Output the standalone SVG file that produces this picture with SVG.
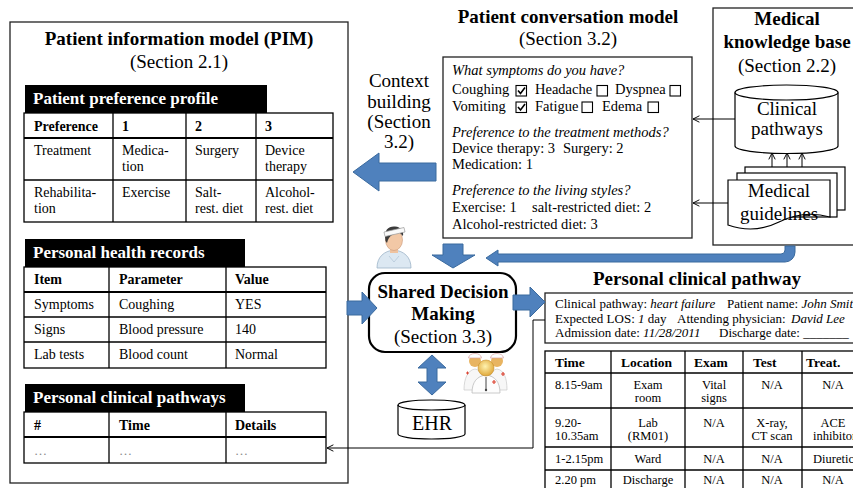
<svg xmlns="http://www.w3.org/2000/svg" width="853" height="488" viewBox="0 0 853 488">
  <style>
    text { font-family: "Liberation Serif", "Times New Roman", serif; fill: #000; }
    .title { font-size: 19px; font-weight: bold; text-anchor: middle; }
    .sec { font-size: 19px; text-anchor: middle; }
    .cell { font-size: 14px; }
    .cellb { font-size: 14px; font-weight: bold; }
    .bartext { font-size: 17px; font-weight: bold; fill: #fff; }
    .q { font-size: 14.5px; }
    .qi { font-size: 14.5px; font-style: italic; }
    .info { font-size: 13px; }
    .th { font-size: 13.5px; font-weight: bold; }
    .td { font-size: 12.5px; }
    .tdc { font-size: 12.5px; text-anchor: middle; }
    .dots { font-size: 13px; fill: #888; }
    .frame { fill: #fff; stroke: #222; stroke-width: 1.3; }
    .grid { fill: none; stroke: #000; stroke-width: 1.3; }
    .thick { stroke: #000; stroke-width: 2.2; }
    .bar { fill: #000; }
    .blue { fill: #4F81BD; stroke: #3A6A9E; stroke-width: 1; }
    .conn { fill: none; stroke: #000; stroke-width: 1; marker-end: url(#open); }
    .chk { fill: #fff; stroke: #000; stroke-width: 1.1; }
  </style>
  <defs>
    <marker id="open" viewBox="0 0 10 10" refX="9" refY="5" markerWidth="8" markerHeight="8" orient="auto" markerUnits="userSpaceOnUse">
      <path d="M1,1 L9,5 L1,9" fill="none" stroke="#000" stroke-width="1.2"/>
    </marker>
    <radialGradient id="gold" cx="0.45" cy="0.4" r="0.6">
      <stop offset="0" stop-color="#fff3b0"/>
      <stop offset="1" stop-color="#e0a83a"/>
    </radialGradient>
  </defs>

  <rect width="853" height="488" fill="#fff"/>

  <!-- Patient information model -->
  <g id="pim">
    <rect class="frame" x="10" y="22" width="338" height="461"/>
    <text class="title" x="179" y="45">Patient information model (PIM)</text>
    <text class="sec" x="179" y="68">(Section 2.1)</text>

    <!-- preference profile -->
    <rect class="bar" x="25" y="85" width="242" height="28"/>
    <text class="bartext" x="33" y="104">Patient preference profile</text>
    <rect class="grid" x="24" y="113" width="309" height="109"/>
    <line class="thick" x1="24" y1="138" x2="333" y2="138"/>
    <line class="grid" x1="24" y1="180" x2="333" y2="180"/>
    <line class="grid" x1="113" y1="113" x2="113" y2="222"/>
    <line class="grid" x1="186" y1="113" x2="186" y2="222"/>
    <line class="grid" x1="256" y1="113" x2="256" y2="222"/>
    <text class="cellb" x="34" y="131">Preference</text>
    <text class="cellb" x="122" y="131">1</text>
    <text class="cellb" x="195" y="131">2</text>
    <text class="cellb" x="265" y="131">3</text>
    <text class="cell" x="34" y="155">Treatment</text>
    <text class="cell" x="122" y="155">Medica-</text>
    <text class="cell" x="122" y="171">tion</text>
    <text class="cell" x="195" y="155">Surgery</text>
    <text class="cell" x="265" y="155">Device</text>
    <text class="cell" x="265" y="171">therapy</text>
    <text class="cell" x="34" y="197">Rehabilita-</text>
    <text class="cell" x="34" y="213">tion</text>
    <text class="cell" x="122" y="197">Exercise</text>
    <text class="cell" x="195" y="197">Salt-</text>
    <text class="cell" x="195" y="213">rest. diet</text>
    <text class="cell" x="265" y="197">Alcohol-</text>
    <text class="cell" x="265" y="213">rest. diet</text>

    <!-- health records -->
    <rect class="bar" x="25" y="239" width="220" height="28"/>
    <text class="bartext" x="33" y="258">Personal health records</text>
    <rect class="grid" x="24" y="267" width="302" height="101"/>
    <line class="thick" x1="24" y1="292" x2="326" y2="292"/>
    <line class="grid" x1="24" y1="317" x2="326" y2="317"/>
    <line class="grid" x1="24" y1="342" x2="326" y2="342"/>
    <line class="grid" x1="109" y1="267" x2="109" y2="368"/>
    <line class="grid" x1="226" y1="267" x2="226" y2="368"/>
    <text class="cellb" x="34" y="284">Item</text>
    <text class="cellb" x="119" y="284">Parameter</text>
    <text class="cellb" x="235" y="284">Value</text>
    <text class="cell" x="34" y="309">Symptoms</text>
    <text class="cell" x="119" y="309">Coughing</text>
    <text class="cell" x="235" y="309">YES</text>
    <text class="cell" x="34" y="334">Signs</text>
    <text class="cell" x="119" y="334">Blood pressure</text>
    <text class="cell" x="235" y="334">140</text>
    <text class="cell" x="34" y="359">Lab tests</text>
    <text class="cell" x="119" y="359">Blood count</text>
    <text class="cell" x="235" y="359">Normal</text>

    <!-- clinical pathways list -->
    <rect class="bar" x="25" y="384" width="220" height="28"/>
    <text class="bartext" x="33" y="403">Personal clinical pathways</text>
    <rect class="grid" x="24" y="412" width="302" height="51"/>
    <line class="thick" x1="24" y1="437" x2="326" y2="437"/>
    <line class="grid" x1="109" y1="412" x2="109" y2="463"/>
    <line class="grid" x1="226" y1="412" x2="226" y2="463"/>
    <text class="cellb" x="34" y="430">#</text>
    <text class="cellb" x="119" y="430">Time</text>
    <text class="cellb" x="235" y="430">Details</text>
    <text class="dots" x="34" y="455">…</text>
    <text class="dots" x="119" y="455">…</text>
    <text class="dots" x="235" y="455">…</text>
  </g>

  <!-- Context building label -->
  <g id="context-building">
    <text class="sec" x="399" y="87">Context</text>
    <text class="sec" x="399" y="108">building</text>
    <text class="sec" x="399" y="128">(Section</text>
    <text class="sec" x="399" y="148">3.2)</text>
  </g>

  <!-- Patient conversation model -->
  <g id="conversation">
    <text class="title" x="568" y="23">Patient conversation model</text>
    <text class="sec" x="568" y="45">(Section 3.2)</text>
    <rect class="frame" x="443" y="57" width="249" height="181"/>
    <text class="qi" x="452" y="75">What symptoms do you have?</text>
    <text class="q" x="452" y="94">Coughing</text>
    <text class="q" x="535" y="94">Headache</text>
    <text class="q" x="615" y="94">Dyspnea</text>
    <text class="q" x="452" y="111">Vomiting</text>
    <text class="q" x="535" y="111">Fatigue</text>
    <text class="q" x="602" y="111">Edema</text>
    <rect class="chk" x="516" y="85.5" width="10.5" height="10.5"/>
    <path d="M518,90.5 L520.5,93.5 L525,87.5" fill="none" stroke="#000" stroke-width="1.6"/>
    <rect class="chk" x="597" y="85.5" width="10.5" height="10.5"/>
    <rect class="chk" x="670" y="85.5" width="10.5" height="10.5"/>
    <rect class="chk" x="516" y="102" width="10.5" height="10.5"/>
    <path d="M518,107 L520.5,110 L525,104" fill="none" stroke="#000" stroke-width="1.6"/>
    <rect class="chk" x="582" y="102" width="10.5" height="10.5"/>
    <rect class="chk" x="648" y="102" width="10.5" height="10.5"/>
    <text class="qi" x="452" y="137">Preference to the treatment methods?</text>
    <text class="q" x="452" y="153">Device therapy: 3</text>
    <text class="q" x="563" y="153">Surgery: 2</text>
    <text class="q" x="452" y="169">Medication: 1</text>
    <text class="qi" x="452" y="195">Preference to the living styles?</text>
    <text class="q" x="452" y="212">Exercise: 1</text>
    <text class="q" x="532" y="212">salt-restricted diet: 2</text>
    <text class="q" x="452" y="229">Alcohol-restricted diet: 3</text>
  </g>

  <!-- Medical knowledge base -->
  <g id="knowledge-base">
    <rect class="frame" x="713" y="8" width="160" height="237"/>
    <text class="title" x="787" y="25">Medical</text>
    <text class="title" x="787" y="48">knowledge base</text>
    <text class="sec" x="787" y="72">(Section 2.2)</text>
  </g>
  <g id="clinical-pathways-db">
    <path d="M735,92.5 A51.5,7.5 0 0 1 838,92.5 V146 A51.5,7.5 0 0 1 735,146 Z" fill="#fff" stroke="#000" stroke-width="1.2"/>
    <path d="M735,92.5 A51.5,7.5 0 0 0 838,92.5" fill="none" stroke="#000" stroke-width="1.2"/>
    <text class="sec" x="787" y="115">Clinical</text>
    <text class="sec" x="787" y="135">pathways</text>
  </g>
  <g id="medical-guidelines">
    <rect x="745" y="167" width="100" height="43" fill="#fff" stroke="#000" stroke-width="1.2"/>
    <rect x="737" y="173" width="100" height="44" fill="#fff" stroke="#000" stroke-width="1.2"/>
    <path d="M728,180 H830 V217 C812,212 795,214 779,222 C763,230 745,231 728,225 Z" fill="#fff" stroke="#000" stroke-width="1.2"/>
    <text class="sec" x="779" y="197">Medical</text>
    <text class="sec" x="779" y="220">guidelines</text>
  </g>

  <!-- Shared decision making -->
  <g id="sdm">
    <rect x="369" y="273" width="147" height="79" rx="16" fill="#fff" stroke="#000" stroke-width="2.2"/>
    <text class="title" x="443" y="298">Shared Decision</text>
    <text class="title" x="443" y="320">Making</text>
    <text class="sec" x="443" y="343">(Section 3.3)</text>
  </g>

  <!-- EHR store -->
  <g id="ehr">
    <path d="M398,405 A33.5,5 0 0 1 465,405 V434 A33.5,5 0 0 1 398,434 Z" fill="#fff" stroke="#000" stroke-width="1.2"/>
    <path d="M398,405 A33.5,5 0 0 0 465,405" fill="none" stroke="#000" stroke-width="1.2"/>
    <text x="432" y="430" font-size="20" text-anchor="middle">EHR</text>
  </g>

  <!-- Personal clinical pathway -->
  <g id="clinical-pathway">
    <text class="title" x="697" y="285">Personal clinical  pathway</text>
    <rect class="frame" x="545" y="293" width="330" height="50"/>
    <text class="info" x="555" y="308">Clinical pathway: <tspan font-style="italic">heart failure</tspan></text>
    <text class="info" x="727" y="308">Patient name: <tspan font-style="italic">John Smith</tspan></text>
    <text class="info" x="555" y="323">Expected LOS: <tspan font-style="italic">1</tspan> day</text>
    <text class="info" x="677" y="323">Attending physician:</text>
    <text class="info" x="791" y="323" font-style="italic">David  Lee</text>
    <text class="info" x="555" y="337">Admission date: <tspan font-style="italic">11/28/2011</tspan></text>
    <text class="info" x="719" y="337">Discharge date: _______</text>

    <rect class="grid" x="545" y="351" width="330" height="150"/>
    <line class="grid" x1="545" y1="373" x2="875" y2="373"/>
    <line class="grid" x1="545" y1="408" x2="875" y2="408"/>
    <line class="grid" x1="545" y1="447" x2="875" y2="447"/>
    <line class="grid" x1="545" y1="470" x2="875" y2="470"/>
    <line class="grid" x1="611" y1="351" x2="611" y2="500"/>
    <line class="grid" x1="685" y1="351" x2="685" y2="500"/>
    <line class="grid" x1="743" y1="351" x2="743" y2="500"/>
    <line class="grid" x1="802" y1="351" x2="802" y2="500"/>
    <text class="th" x="555" y="367">Time</text>
    <text class="th" x="621" y="367">Location</text>
    <text class="th" x="694" y="367">Exam</text>
    <text class="th" x="753" y="367">Test</text>
    <text class="th" x="806" y="367">Treat.</text>

    <text class="td" x="555" y="389">8.15-9am</text>
    <text class="tdc" x="648" y="389">Exam</text>
    <text class="tdc" x="648" y="402">room</text>
    <text class="tdc" x="714" y="389">Vital</text>
    <text class="tdc" x="714" y="402">signs</text>
    <text class="tdc" x="772" y="389">N/A</text>
    <text class="tdc" x="833" y="389">N/A</text>

    <text class="td" x="555" y="427">9.20-</text>
    <text class="td" x="555" y="440">10.35am</text>
    <text class="tdc" x="648" y="427">Lab</text>
    <text class="tdc" x="648" y="440">(RM01)</text>
    <text class="tdc" x="714" y="427">N/A</text>
    <text class="tdc" x="772" y="427">X-ray,</text>
    <text class="tdc" x="772" y="440">CT scan</text>
    <text class="tdc" x="833" y="427">ACE</text>
    <text class="td" x="813" y="440">inhibitor</text>

    <text class="td" x="555" y="463">1-2.15pm</text>
    <text class="tdc" x="648" y="463">Ward</text>
    <text class="tdc" x="714" y="463">N/A</text>
    <text class="tdc" x="772" y="463">N/A</text>
    <text class="td" x="813" y="463">Diuretics</text>

    <text class="td" x="555" y="484">2.20 pm</text>
    <text class="tdc" x="648" y="484">Discharge</text>
    <text class="tdc" x="714" y="484">N/A</text>
    <text class="tdc" x="772" y="484">N/A</text>
    <text class="tdc" x="833" y="484">N/A</text>
  </g>

  <!-- Patient pictogram -->
  <g id="patient-icon">
    <path d="M377,268 C377,257 384,251 394,250 C404,251 411,257 411,268 Z" fill="#dce8f2" stroke="#9db4c8" stroke-width="0.8"/>
    <path d="M390,247 H398 V253 H390 Z" fill="#efc3a0"/>
    <ellipse cx="394" cy="240" rx="8.5" ry="10.5" fill="#f2c8a6" stroke="#c9987a" stroke-width="0.6"/>
    <path d="M385.5,241 C383.5,229 389,226 395,226.5 C401,227 404,231 403,236 L400,233 C394,233 389,235 387,243 Z" fill="#3a3a3a"/>
    <path d="M384,232 L404,227.5 L405,232 L385,236.5 Z" fill="#fafafa" stroke="#9a9a9a" stroke-width="0.7"/>
    <path d="M389,256 L394,262 L399,256" fill="none" stroke="#b5c8d8" stroke-width="0.8"/>
  </g>

  <!-- Care team pictogram -->
  <g id="care-team-icon">
    <path d="M464,390 C464,378 468,370 475,369 C481,370 484,376 484,390 Z" fill="#f7f7f7" stroke="#c8c8c8" stroke-width="0.7"/>
    <circle cx="475" cy="361" r="6" fill="#e8b461"/>
    <path d="M468.5,358 C469,352 481,352 481.5,358 Z" fill="#fff" stroke="#d9a0a0" stroke-width="0.7"/>
    <path d="M488,390 C488,378 491,370 497,369 C504,370 507,378 507,390 Z" fill="#f7f7f7" stroke="#c8c8c8" stroke-width="0.7"/>
    <circle cx="497" cy="361" r="6" fill="#e8b461"/>
    <path d="M490.5,358 C491,352 503,352 503.5,358 Z" fill="#fff" stroke="#d9a0a0" stroke-width="0.7"/>
    <path d="M472,393 C472,382 477,376 486,375 C495,376 500,382 500,393 Z" fill="#fdfdfd" stroke="#bdbdbd" stroke-width="0.8"/>
    <circle cx="486" cy="368" r="8" fill="url(#gold)" stroke="#c9902e" stroke-width="0.6"/>
    <path d="M486,377 V390" stroke="#444" stroke-width="1"/>
    <circle cx="486" cy="390" r="1.2" fill="#444"/>
    <path d="M492,382 h4 M494,380 v4" stroke="#d43" stroke-width="1.2"/>
    <path d="M501,374 h4 M503,372 v4" stroke="#d43" stroke-width="1.2"/>
    <path d="M466,373 h3 M467.5,371.5 v3" stroke="#d43" stroke-width="1"/>
  </g>

  <!-- Connectors -->
  <g id="connectors">
    <!-- thin information flows -->
    <line class="conn" x1="735" y1="119" x2="693" y2="119"/>
    <line class="conn" x1="728" y1="203" x2="693" y2="203"/>
    <line class="conn" x1="772" y1="167" x2="772" y2="153"/>
    <line class="conn" x1="787" y1="167" x2="787" y2="153"/>
    <line class="conn" x1="802" y1="167" x2="802" y2="153"/>
    <polyline class="conn" points="545,320 533,320 533,448 327,448"/>

    <!-- block arrows -->
    <path class="blue" d="M436,163 H379 V153 L353,172 L379,191 V181 H436 Z"/>
    <path class="blue" d="M443,244 H463 V255 H475 L453,268 L432,255 H443 Z"/>
    <path class="blue" d="M795,246 V252 A10,10 0 0 1 785,262 H498 V266 L486,258 L498,250 V254 H781 A4,4 0 0 0 785,250 V246 Z"/>
    <path class="blue" d="M347,301 H362 V292 L377,308 L362,324 V315 H347 Z"/>
    <path class="blue" d="M513,295 H530 V287 L545,302 L530,317 V310 H513 Z"/>
    <path class="blue" d="M432,355 L446,368 H437 V382 H446 L432,395 L418,382 H427 V368 H418 Z"/>
  </g>
</svg>
